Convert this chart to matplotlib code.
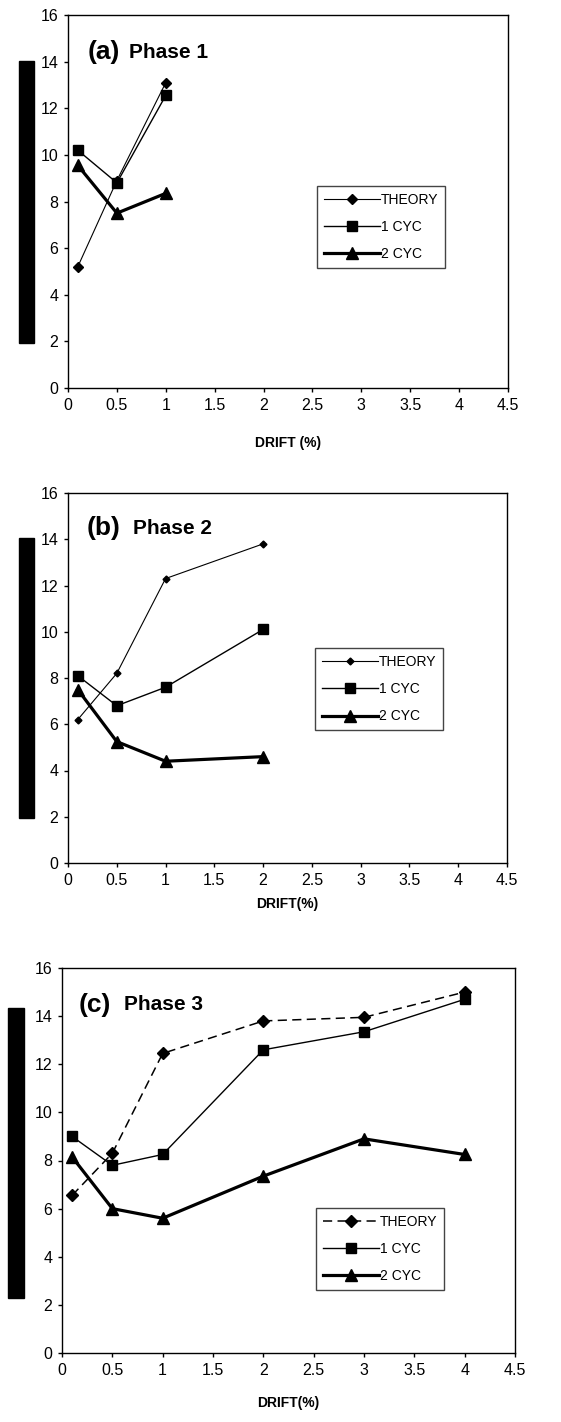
import matplotlib.pyplot as plt
from matplotlib.patches import Rectangle
from matplotlib.ticker import MultipleLocator, FormatStrFormatter

plt.rcParams['font.family'] = ['Liberation Sans', 'DejaVu Sans']

# data
drift_a = [0.1, 0.5, 1]
theory_a = [5.2, 8.9, 13.1]
cyc1_a = [10.2, 8.8, 12.55]
cyc2_a = [9.55, 7.5, 8.35]

drift_b = [0.1, 0.5, 1, 2]
theory_b = [6.2, 8.2, 12.3, 13.8]
cyc1_b = [8.1, 6.8, 7.6, 10.1]
cyc2_b = [7.5, 5.25, 4.4, 4.6]

drift_c = [0.1, 0.5, 1, 2, 3, 4]
theory_c = [6.55, 8.3, 12.45, 13.8, 13.95, 15.0]
cyc1_c = [9.0, 7.8, 8.25, 12.6, 13.35, 14.7]
cyc2_c = [8.15, 6.0, 5.6, 7.35, 8.9, 8.25]

panels = [
    dict(tag='(a)', name='Phase 1', x=drift_a, th=theory_a, c1=cyc1_a, c2=cyc2_a,
         xlabel='DRIFT (%)', pos=[68, 15, 508, 388], bar=[19, 61, 34, 343],
         tag_x=0.045, name_x=0.139, title_y=0.90, leg=(0.566, 0.542), pad=17,
         th_ls='-', th_lw=0.8, th_ms=5.5),
    dict(tag='(b)', name='Phase 2', x=drift_b, th=theory_b, c1=cyc1_b, c2=cyc2_b,
         xlabel='DRIFT(%)', pos=[68, 493, 507, 863], bar=[19, 538, 34, 818],
         tag_x=0.043, name_x=0.148, title_y=0.905, leg=(0.563, 0.581), pad=7,
         th_ls='-', th_lw=0.8, th_ms=3.5),
    dict(tag='(c)', name='Phase 3', x=drift_c, th=theory_c, c1=cyc1_c, c2=cyc2_c,
         xlabel='DRIFT(%)', pos=[62, 968, 515, 1353], bar=[8, 1008, 24, 1298],
         tag_x=0.0375, name_x=0.137, title_y=0.904, leg=(0.561, 0.377), pad=13,
         th_ls=(0, (6, 3.5)), th_lw=1.1, th_ms=6),
]

W, H = 561, 1422
fig = plt.figure(figsize=(W / 100, H / 100), dpi=100)

for p in panels:
    l, t, r, b = p['pos']
    ax = fig.add_axes([l / W, 1 - b / H, (r - l) / W, (b - t) / H])
    ax.plot(p['x'], p['th'], color='black', lw=p['th_lw'], ls=p['th_ls'],
            marker='D', ms=p['th_ms'], label='THEORY')
    ax.plot(p['x'], p['c1'], color='black', lw=1.0, marker='s', ms=6.5, label='1 CYC')
    ax.plot(p['x'], p['c2'], color='black', lw=2.3, marker='^', ms=8, label='2 CYC')

    ax.set_xlim(0, 4.5)
    ax.set_ylim(0, 16)
    ax.xaxis.set_major_locator(MultipleLocator(0.5))
    ax.yaxis.set_major_locator(MultipleLocator(2))
    ax.xaxis.set_major_formatter(FormatStrFormatter('%g'))
    ax.tick_params(direction='out', length=3, width=1, labelsize=11.5, pad=4)
    for s in ax.spines.values():
        s.set_linewidth(1)
    ax.set_xlabel(p['xlabel'], fontsize=10, fontweight='bold', labelpad=p['pad'])

    ax.text(p['tag_x'], p['title_y'], p['tag'], transform=ax.transAxes,
            fontsize=19, fontweight='bold', va='center', ha='left')
    ax.text(p['name_x'], p['title_y'], p['name'], transform=ax.transAxes,
            fontsize=15, fontweight='bold', va='center', ha='left')

    leg = ax.legend(loc='upper left', bbox_to_anchor=p['leg'], borderaxespad=0,
                    fontsize=10, handlelength=4.0, handletextpad=0.1,
                    labelspacing=0.95, borderpad=0.5, fancybox=False,
                    framealpha=1, edgecolor='#444444')
    leg.get_frame().set_linewidth(1)

    # black bar covering the y-axis label
    bl, bt, br, bb = p['bar']
    fig.patches.append(Rectangle((bl / W, 1 - bb / H), (br - bl) / W, (bb - bt) / H,
                                 transform=fig.transFigure, color='black'))

fig.savefig('out.png', dpi=100)
